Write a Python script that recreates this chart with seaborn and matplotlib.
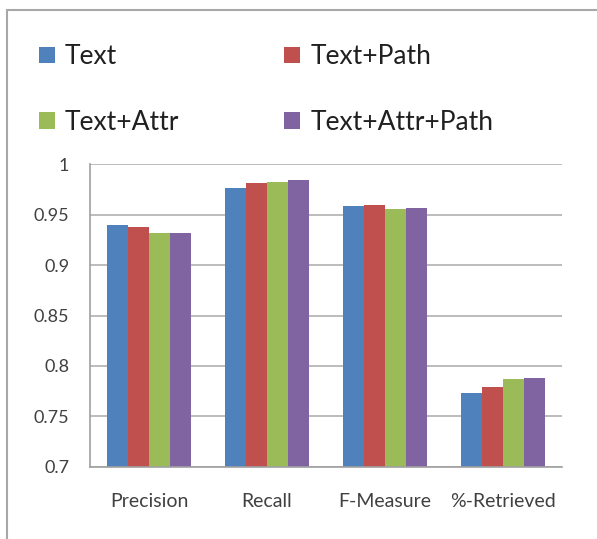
import matplotlib
matplotlib.use("Agg")
import matplotlib.pyplot as plt
from matplotlib.lines import Line2D
from matplotlib.patches import Patch
import seaborn as sns
import pandas as pd

# Evaluation metrics per feature configuration
categories = ["Precision", "Recall", "F-Measure", "%-Retrieved"]
series_names = ["Text", "Text+Path", "Text+Attr", "Text+Attr+Path"]
text_vals = [0.940, 0.976, 0.958, 0.773]
text_path_vals = [0.938, 0.981, 0.959, 0.779]
text_attr_vals = [0.932, 0.982, 0.9555, 0.787]
text_attr_path_vals = [0.932, 0.984, 0.9565, 0.788]
y_ticks = [0.7, 0.75, 0.8, 0.85, 0.9, 0.95, 1.0]
y_tick_labels = ["0.7", "0.75", "0.8", "0.85", "0.9", "0.95", "1"]

colors = ["#4F81BD", "#C0504D", "#9BBB59", "#8064A2"]

rows = []
for name, vals in zip(series_names, [text_vals, text_path_vals, text_attr_vals, text_attr_path_vals]):
    for cat, v in zip(categories, vals):
        rows.append({"Metric": cat, "Config": name, "Score": v})
df = pd.DataFrame(rows)

sns.set_style("white")
plt.rcParams["font.family"] = ["Lato", "DejaVu Sans"]

fig = plt.figure(figsize=(5.97, 5.39), dpi=100)
ax = fig.add_axes([0.1508, 0.1336, 0.7906, 0.5621])

sns.barplot(data=df, x="Metric", y="Score", hue="Config", order=categories,
            hue_order=series_names, palette=colors, width=0.71, gap=0,
            saturation=1, linewidth=0, legend=False, ax=ax)

ax.set_ylim(0.7, 1.0)
ax.set_xlim(-0.5, len(categories) - 0.5)
ax.set_yticks(y_ticks)
ax.set_yticklabels(y_tick_labels)
ax.yaxis.grid(True, color="#b0b0b0", linewidth=1.2)
ax.set_axisbelow(True)
ax.set_xlabel("")
ax.set_ylabel("")

for side in ["top", "right"]:
    ax.spines[side].set_visible(False)
for side in ["left", "bottom"]:
    ax.spines[side].set_color("#a0a0a0")
    ax.spines[side].set_linewidth(1.2)

# Category boundary ticks on the x axis, labels centred between them
ax.set_xticks([i - 0.5 for i in range(len(categories) + 1)], minor=False)
ax.set_xticklabels([])
ax.set_xticks(range(len(categories)), minor=True)
ax.set_xticklabels(categories, minor=True)
ax.tick_params(axis="x", which="major", length=5, width=1.2, color="#a0a0a0", direction="out")
ax.tick_params(axis="x", which="minor", length=0, labelsize=14, labelcolor="#404040", pad=19)
ax.tick_params(axis="y", length=6, width=1.2, color="#a0a0a0", direction="out",
               labelsize=13, labelcolor="#404040", pad=9)

# Legend in two rows above the plot
handles = [Patch(facecolor=c, edgecolor="none") for c in colors]
order = [0, 2, 1, 3]
fig.legend([handles[i] for i in order], [series_names[i] for i in order],
           ncol=2, loc="upper left", bbox_to_anchor=(0.025, 0.962),
           frameon=False, fontsize=19, handlelength=0.6, handleheight=0.6,
           handletextpad=0.38, columnspacing=4.0, labelspacing=1.55,
           labelcolor="#202020")

# Chart frame (top and left edges)
fig.add_artist(Line2D([0.0117, 1.0], [0.9814, 0.9814], transform=fig.transFigure,
                      color="#a8a8a8", linewidth=1.5))
fig.add_artist(Line2D([0.0117, 0.0117], [0.0, 0.9814], transform=fig.transFigure,
                      color="#a8a8a8", linewidth=1.5))

fig.savefig("out.png", dpi=100)
